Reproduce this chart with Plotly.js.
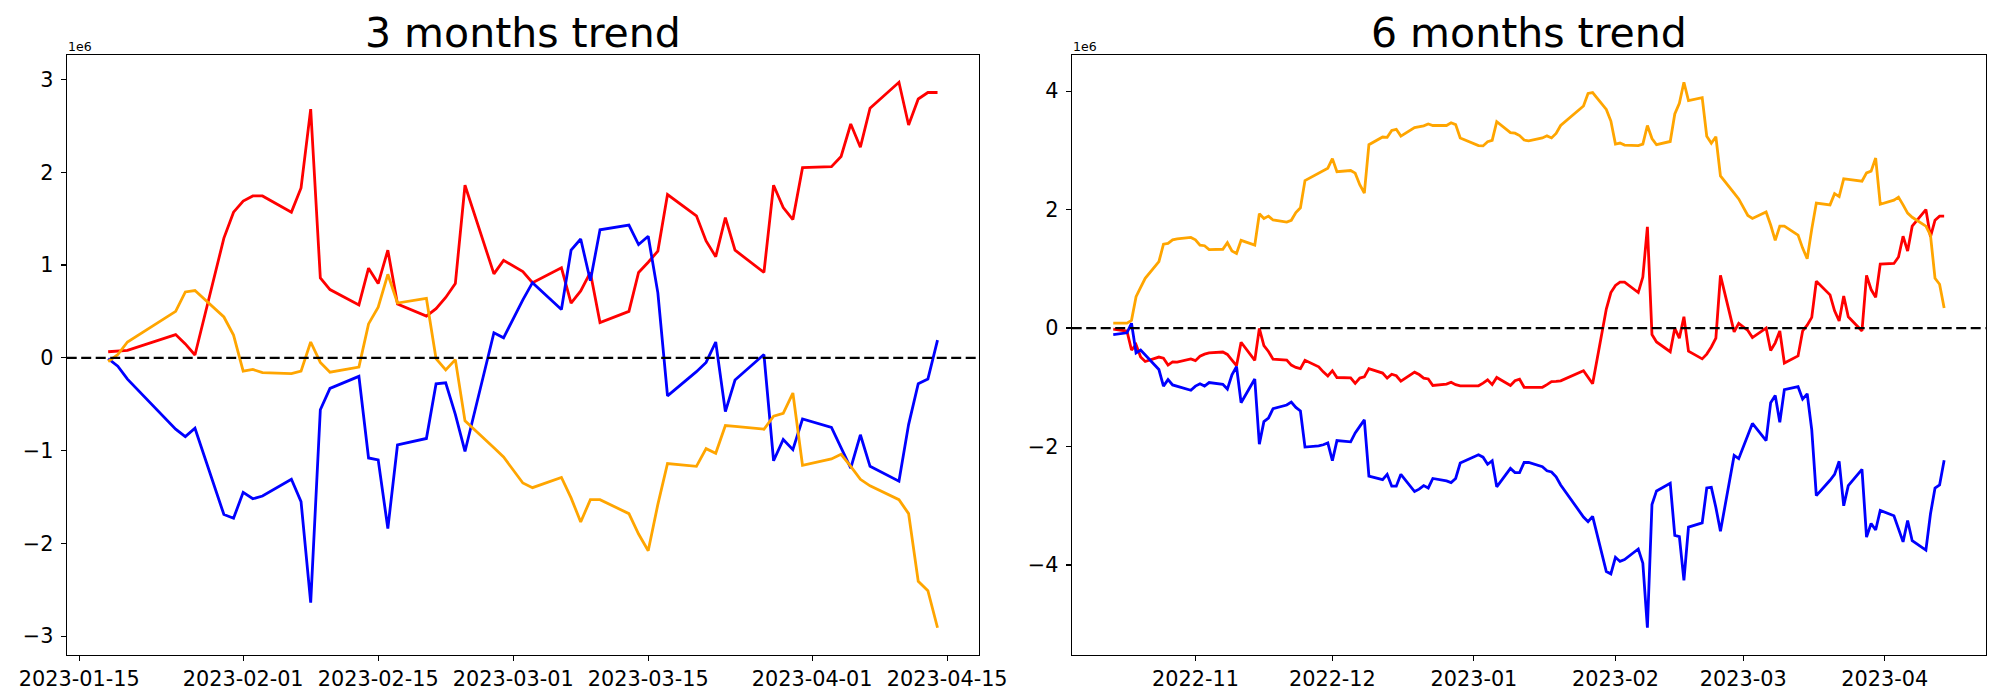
<!DOCTYPE html>
<html>
<head>
<meta charset="utf-8">
<script src="https://cdn.plot.ly/plotly-3.0.1.min.js"></script>
<style>
  html, body { margin: 0; padding: 0; background: #ffffff; }
  #chart { width: 2000px; height: 700px; }
</style>
</head>
<body>
<div id="chart"></div>
<script>
// ---------------- data (values in units of 1e6) ----------------
const dates3m = [
  '2023-01-18','2023-01-19','2023-01-20','2023-01-25','2023-01-26','2023-01-27',
  '2023-01-30','2023-01-31','2023-02-01','2023-02-02','2023-02-03',
  '2023-02-06','2023-02-07','2023-02-08','2023-02-09','2023-02-10',
  '2023-02-13','2023-02-14','2023-02-15','2023-02-16','2023-02-17',
  '2023-02-20','2023-02-21','2023-02-22','2023-02-23','2023-02-24',
  '2023-02-27','2023-02-28','2023-03-02','2023-03-03',
  '2023-03-06','2023-03-07','2023-03-08','2023-03-09','2023-03-10',
  '2023-03-13','2023-03-14','2023-03-15','2023-03-16','2023-03-17',
  '2023-03-20','2023-03-21','2023-03-22','2023-03-23','2023-03-24',
  '2023-03-27','2023-03-28','2023-03-29','2023-03-30','2023-03-31',
  '2023-04-03','2023-04-04','2023-04-05','2023-04-06','2023-04-07',
  '2023-04-10','2023-04-11','2023-04-12','2023-04-13','2023-04-14'
];
const red3m = [
  0.065, 0.07, 0.08, 0.25, 0.15, 0.03,
  1.29, 1.57, 1.69, 1.745, 1.745,
  1.57, 1.83, 2.68, 0.86, 0.735,
  0.57, 0.966, 0.80, 1.16, 0.58,
  0.45, 0.53, 0.65, 0.80, 1.86,
  0.905, 1.05, 0.93, 0.81,
  0.97, 0.59, 0.72, 0.92, 0.38,
  0.50, 0.92, 1.03, 1.15, 1.76,
  1.53, 1.26, 1.09, 1.51, 1.16,
  0.92, 1.86, 1.62, 1.49, 2.05,
  2.06, 2.17, 2.52, 2.27, 2.69,
  2.97, 2.51, 2.79, 2.86, 2.86
];
const blue3m = [
  -0.01, -0.09, -0.23, -0.77, -0.85, -0.76,
  -1.69, -1.73, -1.45, -1.52, -1.49,
  -1.31, -1.55, -2.64, -0.56, -0.33,
  -0.20, -1.08, -1.10, -1.84, -0.94,
  -0.87, -0.28, -0.27, -0.61, -1.01,
  0.27, 0.215, 0.625, 0.81,
  0.52, 1.16, 1.28, 0.83, 1.38,
  1.43, 1.22, 1.31, 0.70, -0.41,
  -0.15, -0.05, 0.17, -0.58, -0.24,
  0.035, -1.11, -0.88, -0.99, -0.66,
  -0.75, -0.97, -1.19, -0.83, -1.17,
  -1.33, -0.72, -0.28, -0.23, 0.19
];
const orange3m = [
  -0.04, 0.035, 0.17, 0.50, 0.71, 0.725,
  0.44, 0.245, -0.144, -0.126, -0.16,
  -0.17, -0.144, 0.17, -0.05, -0.155,
  -0.10, 0.365, 0.545, 0.90, 0.59,
  0.64, -0.01, -0.13, -0.02, -0.68,
  -0.97, -1.07, -1.35, -1.40,
  -1.29, -1.51, -1.77, -1.53, -1.53,
  -1.68, -1.90, -2.08, -1.58, -1.14,
  -1.17, -0.98, -1.03, -0.73, -0.74,
  -0.77, -0.63, -0.60, -0.38, -1.16,
  -1.09, -1.04, -1.17, -1.31, -1.38,
  -1.53, -1.68, -2.41, -2.51, -2.91
];

const dates6mEarly = [
  '2022-10-14','2022-10-17','2022-10-18','2022-10-19','2022-10-20','2022-10-21',
  '2022-10-24','2022-10-25','2022-10-26','2022-10-27','2022-10-28',
  '2022-10-31','2022-11-01','2022-11-02','2022-11-03','2022-11-04',
  '2022-11-07','2022-11-08','2022-11-09','2022-11-10','2022-11-11',
  '2022-11-14','2022-11-15','2022-11-16','2022-11-17','2022-11-18',
  '2022-11-21','2022-11-22','2022-11-23','2022-11-24','2022-11-25',
  '2022-11-28','2022-11-29','2022-11-30','2022-12-01','2022-12-02',
  '2022-12-05','2022-12-06','2022-12-07','2022-12-08','2022-12-09',
  '2022-12-12','2022-12-13','2022-12-14','2022-12-15','2022-12-16',
  '2022-12-19','2022-12-20','2022-12-21','2022-12-22','2022-12-23',
  '2022-12-26','2022-12-27','2022-12-28','2022-12-29',
  '2023-01-02','2023-01-03','2023-01-04','2023-01-05','2023-01-06',
  '2023-01-09','2023-01-10','2023-01-11','2023-01-12','2023-01-13',
  '2023-01-16','2023-01-17'
];
const dates6m = dates6mEarly.concat(dates3m);

const red6m = [
  -0.02, -0.05, -0.37, -0.28, -0.49, -0.565,
  -0.49, -0.51, -0.625, -0.57, -0.575,
  -0.52, -0.55, -0.475, -0.44, -0.42,
  -0.405, -0.445, -0.54, -0.635, -0.24,
  -0.545, -0.005, -0.295, -0.395, -0.525,
  -0.54, -0.625, -0.665, -0.685, -0.545,
  -0.655, -0.74, -0.81, -0.72, -0.835,
  -0.84, -0.935, -0.845, -0.825, -0.685,
  -0.76, -0.845, -0.78, -0.805, -0.895,
  -0.745, -0.785, -0.845, -0.86, -0.97,
  -0.945, -0.915, -0.955, -0.975,
  -0.975, -0.93, -0.875, -0.955, -0.835,
  -0.97, -0.89, -0.865, -1.0, -1.0,
  -1.0, -0.955,
  -0.905, -0.90, -0.89, -0.72, -0.82, -0.94,
  0.32, 0.60, 0.72, 0.775, 0.775,
  0.60, 0.86, 1.71, -0.11, -0.235,
  -0.40, -0.004, -0.17, 0.19, -0.39,
  -0.52, -0.44, -0.32, -0.17, 0.89,
  -0.065, 0.08, -0.04, -0.16,
  0.0, -0.38, -0.25, -0.05, -0.59,
  -0.47, -0.05, 0.05, 0.18, 0.79,
  0.56, 0.29, 0.12, 0.54, 0.19,
  -0.05, 0.89, 0.65, 0.52, 1.08,
  1.09, 1.20, 1.55, 1.30, 1.72,
  2.00, 1.54, 1.82, 1.89, 1.89
];
const blue6m = [
  -0.11, -0.08, 0.08, -0.42, -0.37, -0.45,
  -0.70, -0.98, -0.87, -0.96, -0.98,
  -1.05, -0.98, -0.94, -0.98, -0.92,
  -0.95, -1.03, -0.79, -0.65, -1.26,
  -0.86, -1.96, -1.58, -1.52, -1.36,
  -1.30, -1.25, -1.34, -1.40, -2.01,
  -1.99, -1.97, -1.94, -2.24, -1.90,
  -1.92, -1.77, -1.66, -1.55, -2.50,
  -2.56, -2.47, -2.67, -2.67, -2.47,
  -2.76, -2.72, -2.66, -2.70, -2.54,
  -2.58, -2.61, -2.54, -2.28,
  -2.14, -2.18, -2.30, -2.24, -2.68,
  -2.37, -2.44, -2.44, -2.27, -2.27,
  -2.34, -2.41,
  -2.43, -2.51, -2.65, -3.19, -3.27, -3.18,
  -4.11, -4.15, -3.87, -3.94, -3.91,
  -3.73, -3.97, -5.06, -2.98, -2.75,
  -2.62, -3.50, -3.52, -4.26, -3.36,
  -3.29, -2.70, -2.69, -3.03, -3.43,
  -2.15, -2.205, -1.795, -1.61,
  -1.90, -1.26, -1.14, -1.59, -1.04,
  -0.99, -1.20, -1.11, -1.72, -2.83,
  -2.57, -2.47, -2.25, -3.00, -2.66,
  -2.385, -3.53, -3.30, -3.41, -3.08,
  -3.17, -3.39, -3.61, -3.25, -3.59,
  -3.75, -3.14, -2.70, -2.65, -2.23
];
const orange6m = [
  0.084, 0.084, 0.13, 0.53, 0.685, 0.84,
  1.12, 1.415, 1.43, 1.49, 1.505,
  1.53, 1.49, 1.40, 1.39, 1.325,
  1.33, 1.44, 1.30, 1.26, 1.48,
  1.40, 1.93, 1.85, 1.89, 1.825,
  1.79, 1.82, 1.95, 2.03, 2.49,
  2.61, 2.66, 2.70, 2.86, 2.64,
  2.66, 2.615, 2.42, 2.28, 3.095,
  3.225, 3.22, 3.335, 3.355, 3.24,
  3.385, 3.395, 3.415, 3.445, 3.42,
  3.42, 3.465, 3.435, 3.21,
  3.08, 3.075, 3.145, 3.17, 3.485,
  3.30, 3.29, 3.25, 3.175, 3.16,
  3.21, 3.245,
  3.21, 3.285, 3.42, 3.75, 3.96, 3.975,
  3.69, 3.495, 3.106, 3.124, 3.09,
  3.08, 3.106, 3.42, 3.20, 3.095,
  3.15, 3.615, 3.795, 4.15, 3.84,
  3.89, 3.24, 3.12, 3.23, 2.57,
  2.28, 2.18, 1.90, 1.85,
  1.96, 1.74, 1.48, 1.72, 1.72,
  1.57, 1.35, 1.17, 1.67, 2.11,
  2.08, 2.27, 2.22, 2.52, 2.51,
  2.48, 2.62, 2.65, 2.87, 2.09,
  2.16, 2.21, 2.08, 1.94, 1.87,
  1.72, 1.57, 0.84, 0.74, 0.34
];

const xTicks3m = ['2023-01-15','2023-02-01','2023-02-15','2023-03-01','2023-03-15','2023-04-01','2023-04-15'];
const xTicks6m = ['2022-11-01','2022-12-01','2023-01-01','2023-02-01','2023-03-01','2023-04-01'];
const xTickText6m = ['2022-11','2022-12','2023-01','2023-02','2023-03','2023-04'];
const yTicks3m = [-3, -2, -1, 0, 1, 2, 3];
const yTicks6m = [-4, -2, 0, 2, 4];
const titles = ['3 months trend', '6 months trend'];
const scaleLabel = '1e6';

// ---------------- styling ----------------
const W = 2000, H = 700;
const FONT = 'DejaVu Sans, Liberation Sans, sans-serif';
const LW = 2.8;
const px2x = p => p / W;
const px2y = p => 1 - p / H;
const dom1 = [px2x(66.7), px2x(979)];
const dom2 = [px2x(1071.7), px2x(1985.7)];
const ydom = [px2y(655), px2y(55)];

function line(x, y, color, xa, ya) {
  return { x: x, y: y, type: 'scatter', mode: 'lines', xaxis: xa, yaxis: ya,
           line: { color: color, width: LW }, hoverinfo: 'skip', showlegend: false };
}
const traces = [
  line(dates3m, red3m, '#ff0000', 'x', 'y'),
  line(dates3m, blue3m, '#0000ff', 'x', 'y'),
  line(dates3m, orange3m, '#ffa500', 'x', 'y'),
  line(dates6m, red6m, '#ff0000', 'x2', 'y2'),
  line(dates6m, blue6m, '#0000ff', 'x2', 'y2'),
  line(dates6m, orange6m, '#ffa500', 'x2', 'y2')
];

const minus = v => (v < 0 ? '\u2212' + Math.abs(v) : String(v));
const axisCommon = {
  showgrid: false, zeroline: false, showline: true, mirror: true,
  linecolor: '#000000', linewidth: 1.1,
  ticks: 'outside', ticklen: 5, tickwidth: 1.1, tickcolor: '#000000',
  tickfont: { family: FONT, size: 20.8, color: '#000000' },
  fixedrange: true
};

const layout = {
  width: W, height: H,
  margin: { l: 0, r: 0, t: 0, b: 0, pad: 0 },
  paper_bgcolor: '#ffffff', plot_bgcolor: '#ffffff',
  showlegend: false,
  xaxis: Object.assign({}, axisCommon, {
    domain: dom1, anchor: 'y', type: 'date',
    range: ['2023-01-13 16:48', '2023-04-18 07:12'],
    tickmode: 'array', tickvals: xTicks3m, ticktext: xTicks3m
  }),
  yaxis: Object.assign({}, axisCommon, {
    domain: ydom, anchor: 'x',
    range: [-3.204, 3.264],
    tickmode: 'array', tickvals: yTicks3m, ticktext: yTicks3m.map(minus),
    ticklabelstandoff: 3
  }),
  xaxis2: Object.assign({}, axisCommon, {
    domain: dom2, anchor: 'y2', type: 'date',
    range: ['2022-10-04 21:36', '2023-04-23 02:24'],
    tickmode: 'array', tickvals: xTicks6m, ticktext: xTickText6m
  }),
  yaxis2: Object.assign({}, axisCommon, {
    domain: ydom, anchor: 'x2',
    range: [-5.52, 4.61],
    tickmode: 'array', tickvals: yTicks6m, ticktext: yTicks6m.map(minus),
    ticklabelstandoff: 3
  }),
  shapes: [
    { type: 'line', xref: 'x domain', yref: 'y', x0: 0, x1: 1, y0: 0, y1: 0,
      line: { color: '#000000', width: 2.3, dash: '10px,4.5px' }, layer: 'above' },
    { type: 'line', xref: 'x2 domain', yref: 'y2', x0: 0, x1: 1, y0: 0, y1: 0,
      line: { color: '#000000', width: 2.3, dash: '10px,4.5px' }, layer: 'above' }
  ],
  annotations: [
    { text: titles[0], xref: 'paper', yref: 'paper', x: (dom1[0] + dom1[1]) / 2, y: px2y(33),
      xanchor: 'center', yanchor: 'middle', showarrow: false,
      font: { family: FONT, size: 41, color: '#000000' } },
    { text: titles[1], xref: 'paper', yref: 'paper', x: (dom2[0] + dom2[1]) / 2, y: px2y(33),
      xanchor: 'center', yanchor: 'middle', showarrow: false,
      font: { family: FONT, size: 41, color: '#000000' } },
    { text: scaleLabel, xref: 'paper', yref: 'paper', x: dom1[0], y: px2y(46.5),
      xanchor: 'left', yanchor: 'middle', showarrow: false, borderpad: 0,
      font: { family: FONT, size: 12.5, color: '#000000' } },
    { text: scaleLabel, xref: 'paper', yref: 'paper', x: dom2[0], y: px2y(46.5),
      xanchor: 'left', yanchor: 'middle', showarrow: false, borderpad: 0,
      font: { family: FONT, size: 12.5, color: '#000000' } }
  ]
};

Plotly.newPlot('chart', traces, layout, { staticPlot: true, displayModeBar: false });
</script>
</body>
</html>
